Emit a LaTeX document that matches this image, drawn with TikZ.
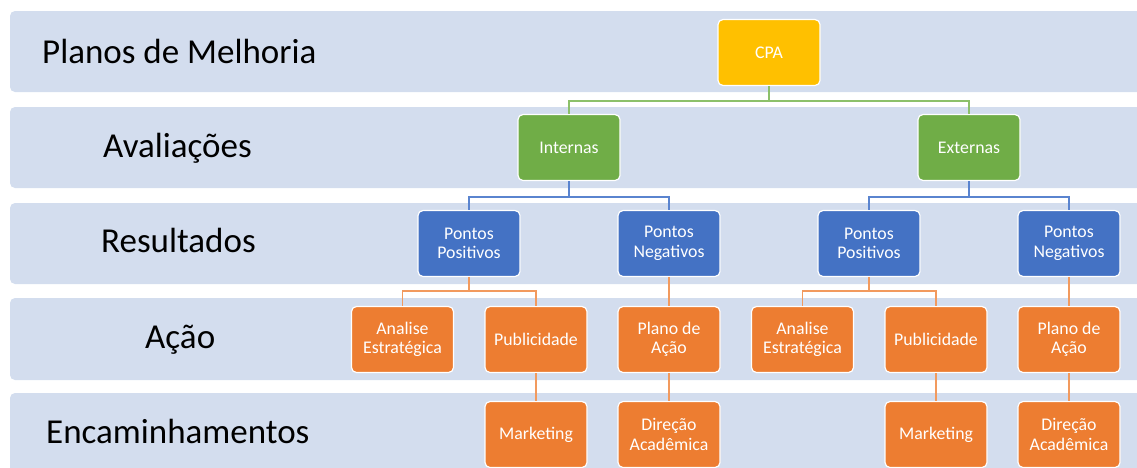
\documentclass[tikz,border=0pt]{standalone}
\usepackage{fontspec}
\setmainfont{Carlito}
\definecolor{band}{HTML}{D3DDEE}
\definecolor{cpa}{HTML}{FFC000}
\definecolor{grn}{HTML}{70AD47}
\definecolor{blu}{HTML}{4472C4}
\definecolor{org}{HTML}{ED7D31}
\definecolor{grnl}{HTML}{8CC06A}
\definecolor{blul}{HTML}{5A84CF}
\definecolor{orgl}{HTML}{F29A5E}
\begin{document}
\begin{tikzpicture}[x=1pt,y=-1pt,
  bandbox/.style={fill=band,draw=none,rounded corners=5pt},
  bandlabel/.style={anchor=base west,font=\fontsize{35}{40}\selectfont,text=black,inner sep=0pt},
  box/.style={draw=white,line width=1.2pt,rounded corners=5pt,minimum width=102pt,minimum height=66pt,
    text=white,align=center,inner sep=1pt,font=\fontsize{17.8}{19.5}\selectfont},
  cpabox/.style={box,fill=cpa},
  gbox/.style={box,fill=grn},
  bbox/.style={box,fill=blu},
  obox/.style={box,fill=org},
  gline/.style={draw=grnl,line width=1.6pt},
  bline/.style={draw=blul,line width=1.6pt},
  oline/.style={draw=orgl,line width=1.6pt}]
\useasboundingbox (0,0) rectangle (1137,467);
\begin{scope}
\clip (0,0) rectangle (1137,467);
% bands
\path[bandbox] (10,11) rectangle (1150,92);
\path[bandbox] (10,107) rectangle (1150,188);
\path[bandbox] (10,203) rectangle (1150,284);
\path[bandbox] (10,298) rectangle (1150,380);
\path[bandbox] (10,393) rectangle (1150,480);
% band labels
\node[bandlabel] (l1) at (42,63) {Planos de Melhoria};
\node[bandlabel] (l2) at (103,157) {Avaliações};
\node[bandlabel] (l3) at (101,252.5) {Resultados};
\node[bandlabel] (l4) at (145,348) {Ação};
\node[bandlabel] (l5) at (46,443) {Encaminhamentos};
% nodes
\node[cpabox] (cpa) at (769,52.5) {CPA};
\node[gbox] (int) at (569,147.5) {Internas};
\node[gbox] (ext) at (969,147.5) {Externas};
\node[bbox] (pp1) at (469,243.5) {Pontos\\Positivos};
\node[bbox] (pn1) at (669,243.5) {Pontos\\Negativos};
\node[bbox] (pp2) at (869,243.5) {Pontos\\Positivos};
\node[bbox] (pn2) at (1069,243.5) {Pontos\\Negativos};
\node[obox] (an1) at (402.5,339.5) {Analise\\Estratégica};
\node[obox] (pu1) at (536,339.5) {Publicidade};
\node[obox] (pa1) at (669,339.5) {Plano de\\Ação};
\node[obox] (an2) at (802.5,339.5) {Analise\\Estratégica};
\node[obox] (pu2) at (936,339.5) {Publicidade};
\node[obox] (pa2) at (1069,339.5) {Plano de\\Ação};
\node[obox] (mk1) at (536,434.5) {Marketing};
\node[obox] (di1) at (669,434.5) {Direção\\Acadêmica};
\node[obox] (mk2) at (936,434.5) {Marketing};
\node[obox] (di2) at (1069,434.5) {Direção\\Acadêmica};
% connectors
\draw[gline] (cpa.south) -- ++(0,15) -| (int.north);
\draw[gline] (cpa.south) -- ++(0,15) -| (ext.north);
\draw[bline] (int.south) -- ++(0,16) -| (pp1.north);
\draw[bline] (int.south) -- ++(0,16) -| (pn1.north);
\draw[bline] (ext.south) -- ++(0,16) -| (pp2.north);
\draw[bline] (ext.south) -- ++(0,16) -| (pn2.north);
\draw[oline] (pp1.south) -- ++(0,14) -| (an1.north);
\draw[oline] (pp1.south) -- ++(0,14) -| (pu1.north);
\draw[oline] (pn1.south) -- (pa1.north);
\draw[oline] (pp2.south) -- ++(0,14) -| (an2.north);
\draw[oline] (pp2.south) -- ++(0,14) -| (pu2.north);
\draw[oline] (pn2.south) -- (pa2.north);
\draw[oline] (pu1.south) -- (mk1.north);
\draw[oline] (pa1.south) -- (di1.north);
\draw[oline] (pu2.south) -- (mk2.north);
\draw[oline] (pa2.south) -- (di2.north);
\end{scope}
\end{tikzpicture}
\end{document}
